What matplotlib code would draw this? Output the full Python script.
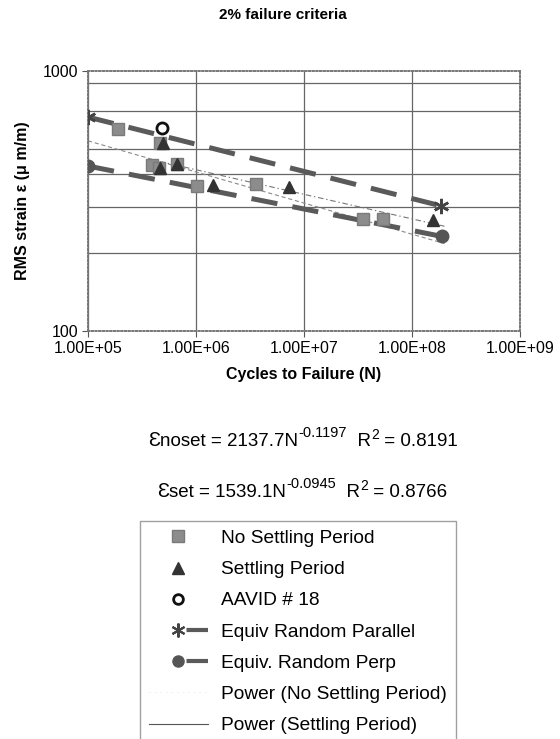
import numpy as np
import matplotlib.pyplot as plt
from matplotlib.lines import Line2D

plt.rcParams['font.family'] = ['Liberation Sans', 'DejaVu Sans']
plt.rcParams['lines.scale_dashes'] = False

# data
noset_n = [1.9e5, 4.6e5, 3.9e5, 4.5e5, 6.7e5, 1.02e6, 3.6e6, 3.5e7, 5.4e7]
noset_e = [598, 528, 435, 425, 439, 361, 368, 270, 270]

set_n = [5.0e5, 4.6e5, 6.7e5, 1.43e6, 7.3e6, 1.56e8]
set_e = [528, 425, 437, 365, 357, 267]

aavid_n = [4.8e5]
aavid_e = [604]

par_n = [1.0e5, 1.85e8]
par_e = [665, 303]

perp_n = [1.0e5, 1.9e8]
perp_e = [431, 231]

# power trendlines (coefficients from the chart)
noset_a, noset_b = 2137.7, -0.1197
set_a, set_b = 1539.1, -0.0945
noset_r2, set_r2 = 0.8191, 0.8766
noset_span = [1.0e5, 2.0e8]
set_span = [4.6e5, 2.0e8]

xticks = [1e5, 1e6, 1e7, 1e8, 1e9]
xticklabels = ['1.00E+05', '1.00E+06', '1.00E+07', '1.00E+08', '1.00E+09']
hgrid = [200, 300, 400, 500, 700, 900]

STAR = (6, 2, 0)  # asterisk marker
W, H = 560, 739


def rich_line(fig, xc, yb, pieces):
    # pieces: (text, fontsize, raise in px); laid out left to right, centred on xc
    r = fig.canvas.get_renderer()
    texts = []
    for s, fs, dy in pieces:
        t = fig.text(0, yb + dy / H, s, fontsize=fs, va='baseline', ha='left')
        texts.append(t)
    widths = [t.get_window_extent(r).width for t in texts]
    x = xc * W - sum(widths) / 2
    for t, w in zip(texts, widths):
        t.set_x(x / W)
        x += w


def main():
    fig = plt.figure(figsize=(W / 100, H / 100), dpi=100)
    ax = fig.add_axes([88 / W, 1 - 331 / H, 432 / W, 260 / H])

    dash = (19, 11)
    ax.plot(par_n, par_e, color='#5a5a5a', lw=3.6, dashes=dash,
            marker=STAR, ms=11, mew=1.8, mec='#444444', zorder=3)
    ax.plot(perp_n, perp_e, color='#5a5a5a', lw=3.6, dashes=dash,
            marker='o', ms=9, mfc='#555555', mec='#555555', zorder=3)

    ns = np.array(noset_span)
    ss = np.array(set_span)
    ax.plot(ns, noset_a * ns ** noset_b, color='#8a8a8a', lw=0.8,
            dashes=(3, 2), zorder=2)
    ax.plot(ss, set_a * ss ** set_b, color='#777777', lw=0.8,
            dashes=(4, 2, 1, 2), zorder=2)

    ax.plot(noset_n, noset_e, ls='none', marker='s', ms=8.5,
            mfc='#8c8c8c', mec='#7a7a7a', zorder=4)
    ax.plot(set_n, set_e, ls='none', marker='^', ms=9,
            mfc='#333333', mec='#333333', zorder=5)
    ax.plot(aavid_n, aavid_e, ls='none', marker='o', ms=8, mfc='white',
            mec='#111111', mew=2, zorder=5)

    ax.set_xscale('log')
    ax.set_yscale('log')
    ax.set_xlim(1e5, 1e9)
    ax.set_ylim(100, 1000)

    ax.set_xticks(xticks)
    ax.set_xticklabels(xticklabels, fontsize=11.5)
    ax.set_xticks([], minor=True)
    ax.set_yticks([100, 1000])
    ax.set_yticklabels(['100', '1000'], fontsize=11.5)
    ax.set_yticks(hgrid, minor=True)
    ax.set_yticklabels([], minor=True)
    ax.tick_params(axis='y', which='minor', length=0)
    ax.tick_params(which='major', length=4, color='#555555', pad=3)

    ax.grid(True, axis='x', which='major', color='#666666', lw=0.9)
    ax.grid(True, axis='y', which='minor', color='#666666', lw=0.9)
    for s in ax.spines.values():
        s.set_color('#777777')
        s.set_linestyle(':')
        s.set_linewidth(1.4)

    ax.set_xlabel('Cycles to Failure (N)', fontsize=11.5, fontweight='bold',
                  labelpad=8)
    ax.set_ylabel('RMS strain ε (μ m/m)', fontsize=11.5, fontweight='bold',
                  labelpad=9)

    fig.text(283 / W, 1 - 15 / H, '2% failure criteria', ha='center',
             va='center', fontsize=11, fontweight='bold')

    rich_line(fig, 303 / W, 1 - 446 / H, [
        ('Ɛ', 14.5, 0), ('noset = %.1fN' % noset_a, 13.5, 0),
        ('%.4f' % noset_b, 10.5, 9), ('  R', 13.5, 0), ('2', 10, 7),
        (' = %.4f' % noset_r2, 13.5, 0)])
    rich_line(fig, 302 / W, 1 - 497 / H, [
        ('Ɛ', 14.5, 0), ('set = %.1fN' % set_a, 13.5, 0),
        ('%.4f' % set_b, 10.5, 9), ('  R', 13.5, 0), ('2', 10, 7),
        (' = %.4f' % set_r2, 13.5, 0)])

    ldash = (0, 27, 16, 20)
    handles = [
        Line2D([], [], ls='none', marker='s', ms=8, mfc='#8c8c8c', mec='#7a7a7a'),
        Line2D([], [], ls='none', marker='^', ms=8, mfc='#333333', mec='#333333'),
        Line2D([], [], ls='none', marker='o', ms=7, mfc='white', mec='#111111', mew=2),
        Line2D([], [], color='#5a5a5a', lw=3, dashes=ldash,
               marker=STAR, ms=10, mew=1.5, mec='#444444'),
        Line2D([], [], color='#5a5a5a', lw=3, dashes=ldash,
               marker='o', ms=8, mfc='#555555', mec='#555555'),
        Line2D([], [], color='#e6e6e6', lw=0.6, dashes=(1, 3)),
        Line2D([], [], color='#555555', lw=0.8),
    ]
    labels = ['No Settling Period', 'Settling Period', 'AAVID # 18',
              'Equiv Random Parallel', 'Equiv. Random Perp',
              'Power (No Settling Period)', 'Power (Settling Period)']
    leg = fig.legend(handles, labels, loc='upper left',
                     bbox_to_anchor=(140 / W, 1 - 521 / H),
                     fontsize=13.8, frameon=True, fancybox=False,
                     edgecolor='#888888', handlelength=3.1,
                     handletextpad=0.7, labelspacing=0.72,
                     borderpad=0.45, borderaxespad=0)
    leg.get_frame().set_linewidth(1.0)

    fig.savefig('out.png', dpi=100)


if __name__ == '__main__':
    main()
